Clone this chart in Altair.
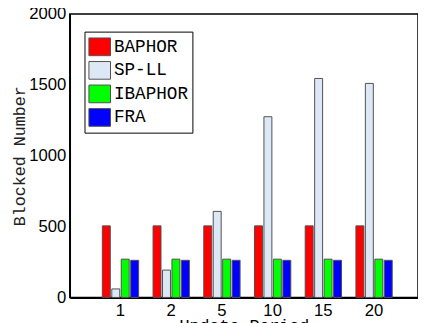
import altair as alt
import pandas as pd

periods = ["1", "2", "5", "10", "15", "20"]
series = ["BAPHOR", "SP-LL", "IBAPHOR", "FRA"]
baphor = [505, 505, 505, 505, 505, 505]
spll = [60, 193, 607, 1275, 1545, 1510]
ibaphor = [270, 270, 270, 270, 270, 270]
fra = [262, 262, 262, 262, 262, 262]
colors = ["#ff0000", "#dde8f7", "#00ff00", "#0000ff"]

rows = []
for name, vals in zip(series, [baphor, spll, ibaphor, fra]):
    for p, v in zip(periods, vals):
        rows.append({"period": p, "series": name, "value": v})
df = pd.DataFrame(rows)

mono = "Courier New, Liberation Mono, monospace"
sans = "Liberation Sans"

chart = alt.Chart(df).mark_bar(stroke="#505050", strokeWidth=1).encode(
    x=alt.X("period:N", sort=periods,
            scale=alt.Scale(paddingInner=0.284, paddingOuter=0.575, align=0.558),
            axis=alt.Axis(title="Update Period", labelAngle=0, ticks=False,
                          labelPadding=5, labelFont=sans, labelFontSize=17,
                          labelColor="black", titleFont=mono, titleFontSize=17,
                          titleFontWeight="normal", titleColor="black",
                          titlePadding=0, domainColor="black", domainWidth=2)),
    xOffset=alt.XOffset("series:N", sort=series,
                        scale=alt.Scale(paddingInner=0.158, paddingOuter=0)),
    y=alt.Y("value:Q", scale=alt.Scale(domain=[0, 2000], nice=False),
            axis=alt.Axis(title="Blocked Number", values=[0, 500, 1000, 1500, 2000],
                          format="d", grid=False, ticks=False, labelPadding=4,
                          labelFont=sans, labelFontSize=17, labelColor="black",
                          titleFont=mono, titleFontSize=17, titleFontWeight="normal",
                          titleColor="#222222", titlePadding=0,
                          domainColor="black", domainWidth=1.5)),
    color=alt.Color("series:N", sort=series,
                    scale=alt.Scale(domain=series, range=colors),
                    legend=alt.Legend(title=None, orient="none", legendX=15, legendY=18,
                                      symbolType="M-1,-0.82H1V0.82H-1Z",
                                      symbolSize=484, symbolStrokeColor="#505050",
                                      symbolStrokeWidth=1, symbolOpacity=1,
                                      labelFont=mono, labelFontSize=18,
                                      labelColor="black", labelOffset=3,
                                      rowPadding=1, padding=4,
                                      strokeColor="black", fillColor="white")),
).properties(
    width=355, height=289,
    autosize=alt.AutoSizeParams(type="none"),
    padding={"left": 63, "top": 3, "right": 0, "bottom": 24},
).configure_view(stroke="black", strokeWidth=1.5)

chart.save("out.html", embed_options={"renderer": "svg", "actions": False})
